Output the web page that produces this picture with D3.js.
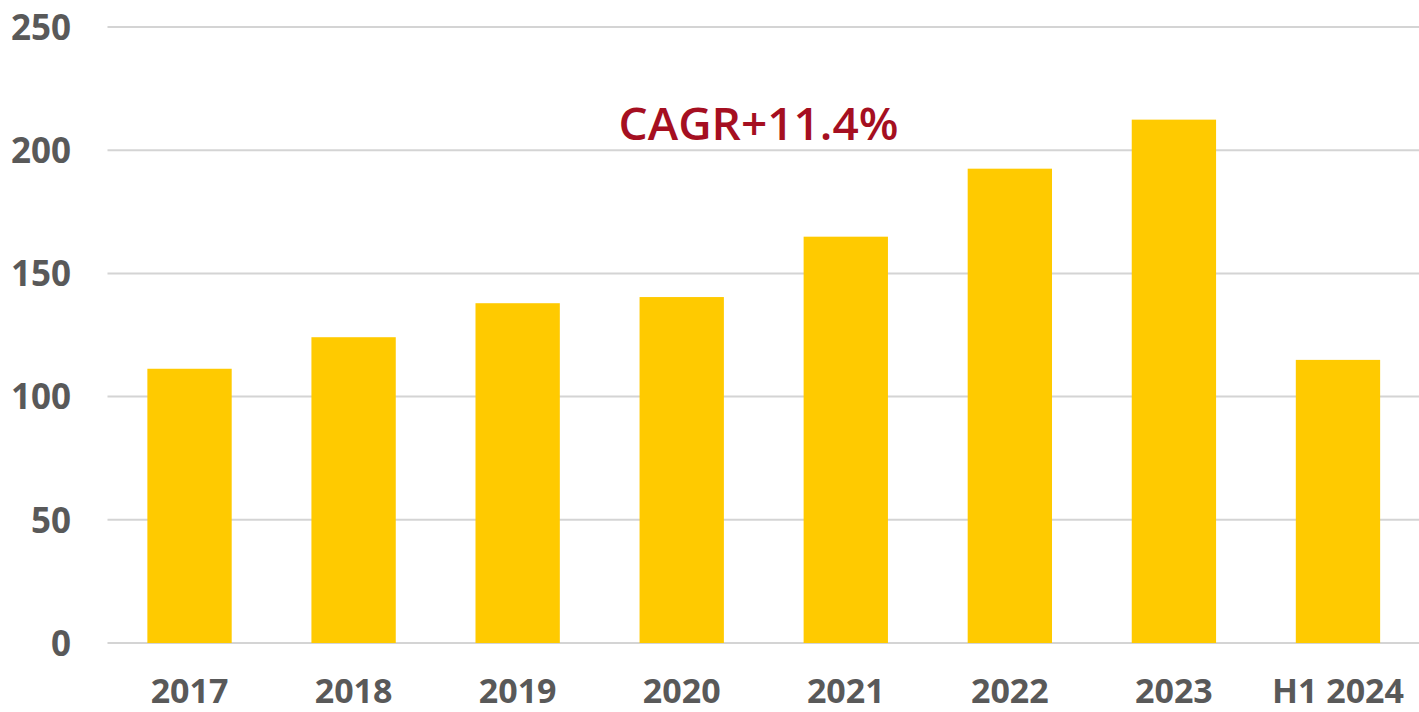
<!DOCTYPE html>
<html>
<head>
<meta charset="utf-8">
<script src="https://cdn.jsdelivr.net/npm/d3@7"></script>
<style>
  html, body { margin: 0; padding: 0; background: #fff; }
  svg { display: block; }
  text { font-family: "Open Sans", "Liberation Sans", sans-serif; }
</style>
</head>
<body>
<svg id="chart" width="1419" height="712"></svg>
<script>
// Annual values (2017–2023 full years, then first half of 2024)
const categories = ["2017", "2018", "2019", "2020", "2021", "2022", "2023", "H1 2024"];
const values = [111.3, 124.1, 137.9, 140.4, 164.9, 192.5, 212.4, 114.9];
const yTicks = [0, 50, 100, 150, 200, 250];
const annotation = "CAGR+11.4%";

const svg = d3.select("#chart");
const W = 1419, H = 712;
const plotLeft = 107.5, plotRight = 1420, plotTop = 27, plotBottom = 643;

const x = d3.scaleBand()
  .domain(categories)
  .range([plotLeft, plotRight])
  .paddingInner(0.486)
  .paddingOuter(0.243);

const y = d3.scaleLinear()
  .domain([0, 250])
  .range([plotBottom, plotTop]);

// Horizontal gridlines
svg.append("g")
  .selectAll("line")
  .data(yTicks)
  .join("line")
  .attr("x1", plotLeft)
  .attr("x2", W)
  .attr("y1", d => y(d))
  .attr("y2", d => y(d))
  .attr("stroke", "#d4d4d4")
  .attr("stroke-width", 2);

// Bars
svg.append("g")
  .selectAll("rect")
  .data(categories)
  .join("rect")
  .attr("x", d => x(d))
  .attr("width", x.bandwidth())
  .attr("y", (d, i) => y(values[i]))
  .attr("height", (d, i) => y(0) - y(values[i]))
  .attr("fill", "#FFCA00");

// Y axis labels
const yAxis = d3.axisLeft(y).tickValues(yTicks).tickSize(0).tickPadding(0);
const gy = svg.append("g")
  .attr("transform", "translate(71,0)")
  .call(yAxis);
gy.select(".domain").remove();
gy.selectAll("text")
  .attr("fill", "#595959")
  .attr("font-size", 35)
  .attr("font-weight", 700)
  .attr("dy", "0.35em");

// X axis labels
const xAxis = d3.axisBottom(x).tickSize(0).tickPadding(0);
const gx = svg.append("g")
  .attr("transform", "translate(0,679)")
  .call(xAxis);
gx.select(".domain").remove();
gx.selectAll("text")
  .attr("fill", "#595959")
  .attr("font-size", 34)
  .attr("font-weight", 700)
  .attr("dy", "0.71em");

// Growth annotation
svg.append("text")
  .attr("x", 758.5)
  .attr("y", 140)
  .attr("text-anchor", "middle")
  .attr("fill", "#A50F21")
  .attr("font-size", 46)
  .attr("font-weight", 600)
  .text(annotation);
</script>
</body>
</html>
